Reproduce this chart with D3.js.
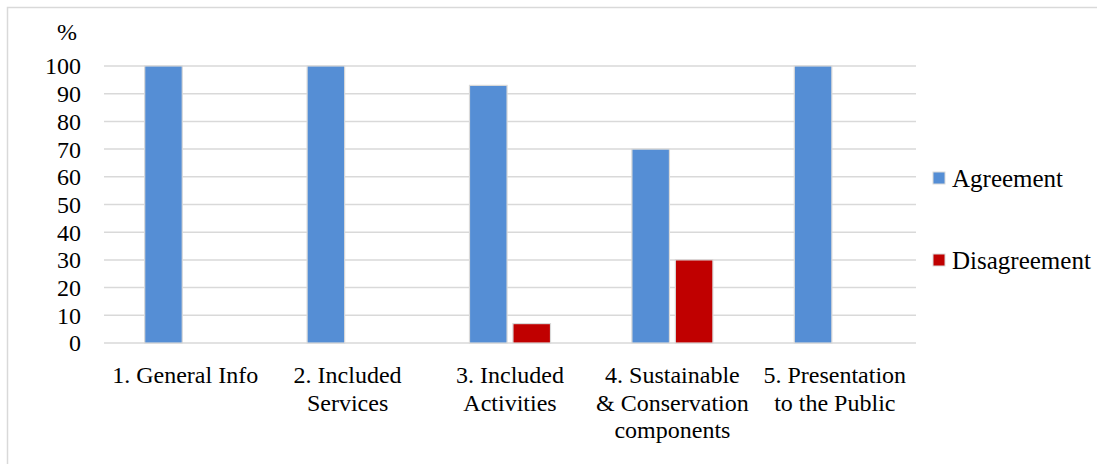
<!DOCTYPE html>
<html>
<head>
<meta charset="utf-8">
<script src="https://cdn.jsdelivr.net/npm/d3@7"></script>
<style>
  html, body { margin: 0; padding: 0; background: #fff; }
  svg { display: block; font-family: "Liberation Serif", "DejaVu Serif", serif; }
</style>
</head>
<body>
<svg id="chart" width="1097" height="464"></svg>
<script>
const categories = [
  ["1. General Info"],
  ["2. Included", "Services"],
  ["3. Included", "Activities"],
  ["4. Sustainable", "& Conservation", "components"],
  ["5. Presentation", "to the Public"]
];
const agreement = [100, 100, 93, 70, 100];
const disagreement = [0, 0, 7, 30, 0];
const seriesNames = ["Agreement", "Disagreement"];
const seriesColors = ["#558ED5", "#C00000"];
const yTicks = [0, 10, 20, 30, 40, 50, 60, 70, 80, 90, 100];
const yUnit = "%";

const svg = d3.select("#chart");
const W = 1097, H = 464;

// outer frame
svg.append("rect")
  .attr("x", 7.5).attr("y", 7.5)
  .attr("width", W + 10).attr("height", H - 4)
  .attr("fill", "#fff").attr("stroke", "#d9d9d9").attr("stroke-width", 1.5);

const plot = { left: 104, right: 916, top: 66, bottom: 343 };

const x = d3.scaleBand()
  .domain(d3.range(categories.length))
  .range([plot.left, plot.right]);

const y = d3.scaleLinear().domain([0, 100]).range([plot.bottom, plot.top]);

const barW = 35, gap = 11;
const x1 = d3.scaleBand().domain([0, 1])
  .range([-(barW + gap / 2), barW + gap / 2])
  .paddingInner(gap / (2 * barW + gap));

// gridlines
svg.append("g").selectAll("line")
  .data(yTicks)
  .join("line")
  .attr("x1", plot.left).attr("x2", plot.right)
  .attr("y1", d => y(d)).attr("y2", d => y(d))
  .attr("stroke", "#d9d9d9").attr("stroke-width", 1.5);

// y-axis tick labels
const yAxis = d3.axisLeft(y).tickValues(yTicks).tickSize(0).tickPadding(0);
const gy = svg.append("g").attr("transform", "translate(81,0)").call(yAxis);
gy.select(".domain").remove();
gy.selectAll("text")
  .attr("font-family", "Liberation Serif, serif")
  .attr("font-size", 24)
  .attr("fill", "#000")
  .attr("dy", "0.33em");

// unit label
svg.append("text")
  .attr("x", 67).attr("y", 40)
  .attr("text-anchor", "middle")
  .attr("font-size", 24).attr("fill", "#000")
  .text(yUnit);

// bars
const series = [agreement, disagreement];
series.forEach((vals, si) => {
  svg.append("g").selectAll("rect")
    .data(vals.map((v, i) => ({ v, i })).filter(d => d.v > 0))
    .join("rect")
    .attr("x", d => x(d.i) + x.bandwidth() / 2 + x1(si))
    .attr("width", x1.bandwidth())
    .attr("y", d => y(d.v))
    .attr("height", d => y(0) - y(d.v))
    .attr("fill", seriesColors[si])
    .attr("stroke", "#d9d9d9").attr("stroke-width", 1.2);
});

// x category labels
const gx = svg.append("g");
categories.forEach((lines, i) => {
  const t = gx.append("text")
    .attr("x", x(i) + x.bandwidth() / 2)
    .attr("y", 383)
    .attr("text-anchor", "middle")
    .attr("font-size", 24).attr("fill", "#000");
  lines.forEach((ln, li) => {
    t.append("tspan")
      .attr("x", x(i) + x.bandwidth() / 2)
      .attr("dy", li === 0 ? 0 : 27.5)
      .text(ln);
  });
});

// legend
const legendY = [172, 254];
seriesNames.forEach((name, si) => {
  svg.append("rect")
    .attr("x", 933).attr("y", legendY[si])
    .attr("width", 12).attr("height", 12)
    .attr("fill", seriesColors[si])
    .attr("stroke", "#d9d9d9").attr("stroke-width", 1);
  svg.append("text")
    .attr("x", 952).attr("y", legendY[si] + 15)
    .attr("font-size", 25).attr("fill", "#000")
    .text(name);
});
</script>
</body>
</html>
